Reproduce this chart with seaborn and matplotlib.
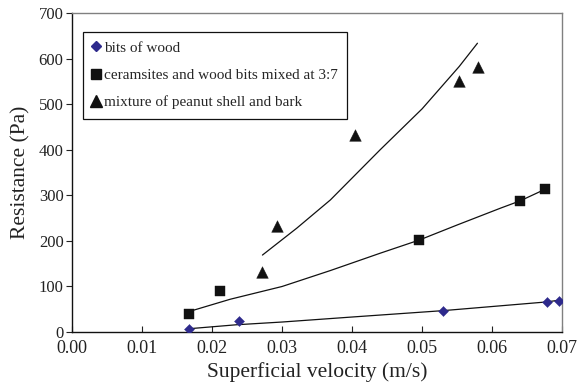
import matplotlib
matplotlib.use("Agg")
import matplotlib.pyplot as plt
import seaborn as sns
import pandas as pd
from matplotlib.lines import Line2D

# measured points
wood_v = [0.0167, 0.0239, 0.0530, 0.0679, 0.0696]
wood_r = [6, 24, 47, 65, 68]
mix_v = [0.0167, 0.0212, 0.0496, 0.0640, 0.0675]
mix_r = [39, 90, 202, 288, 314]
peanut_v = [0.0271, 0.0293, 0.0404, 0.0553, 0.0580]
peanut_r = [131, 233, 433, 552, 581]

# model curves
wood_fit_v = [0.0165, 0.0235, 0.030, 0.040, 0.053, 0.0677, 0.0696]
wood_fit_r = [7, 16, 22, 33, 47, 66, 70]
mix_fit_v = [0.0165, 0.0226, 0.030, 0.0369, 0.044, 0.0496, 0.055, 0.0612, 0.064, 0.0675]
mix_fit_r = [44, 72, 100, 135, 173, 202, 235, 272, 288, 313]
peanut_fit_v = [0.0272, 0.0321, 0.0369, 0.044, 0.050, 0.0553, 0.0579]
peanut_fit_r = [169, 228, 290, 400, 490, 583, 634]

labels = ["bits of wood", "ceramsites and wood bits mixed at 3:7",
          "mixture of peanut shell and bark"]
x_ticks = [0.00, 0.01, 0.02, 0.03, 0.04, 0.05, 0.06, 0.07]
y_ticks = [0, 100, 200, 300, 400, 500, 600, 700]

sns.set_style("ticks")
plt.rcParams["font.family"] = ["Liberation Serif", "DejaVu Serif"]

fig = plt.figure(figsize=(5.85, 3.87), dpi=100)
ax = fig.add_axes([0.123, 0.142, 0.838, 0.824])

navy = "#2E2A8C"
black = "#111111"

for fv, fr in [(wood_fit_v, wood_fit_r), (mix_fit_v, mix_fit_r), (peanut_fit_v, peanut_fit_r)]:
    df = pd.DataFrame({"v": fv, "r": fr})
    sns.lineplot(data=df, x="v", y="r", ax=ax, color="#111111", lw=0.9,
                 sort=False, estimator=None, legend=False)

sns.scatterplot(x=wood_v, y=wood_r, ax=ax, marker="D", s=26, color=navy,
                edgecolor=navy, linewidth=0.3, zorder=3)
sns.scatterplot(x=mix_v, y=mix_r, ax=ax, marker="s", s=48, color=black,
                edgecolor=black, linewidth=0.3, zorder=3)
sns.scatterplot(x=peanut_v, y=peanut_r, ax=ax, marker="^", s=70, color=black,
                edgecolor=black, linewidth=0.3, zorder=3)

ax.set_xlim(0, 0.07)
ax.set_ylim(0, 700)
ax.set_xticks(x_ticks)
ax.set_xticklabels([f"{t:.2f}" for t in x_ticks])
ax.set_yticks(y_ticks)
ax.set_yticklabels([str(t) for t in y_ticks])
ax.tick_params(axis="x", direction="in", length=4, width=0.8, labelsize=13, pad=5.5, colors="#222222")
ax.tick_params(axis="y", direction="out", length=4, width=0.8, labelsize=12, pad=2, colors="#222222")
ax.set_xlabel("Superficial velocity (m/s)", fontsize=15.5, color="#222222", labelpad=4)
ax.set_ylabel("Resistance (Pa)", fontsize=15.5, color="#222222", labelpad=6)

for s in ["left", "bottom"]:
    ax.spines[s].set_color("#111111")
    ax.spines[s].set_linewidth(1.0)
for s in ["top", "right"]:
    ax.spines[s].set_visible(True)
    ax.spines[s].set_color("#808080")
    ax.spines[s].set_linewidth(1.0)

handles = [
    Line2D([], [], marker="D", ls="none", color=navy, markersize=5),
    Line2D([], [], marker="s", ls="none", color=black, markersize=7),
    Line2D([], [], marker="^", ls="none", color=black, markersize=8),
]
leg = ax.legend(handles, labels, loc="upper left", bbox_to_anchor=(0.022, 0.942),
                frameon=True, fancybox=False, edgecolor="#111111", framealpha=1,
                fontsize=11, handlelength=0.6, handletextpad=0.2,
                labelspacing=0.9, borderpad=0.6, borderaxespad=0)
leg.get_frame().set_linewidth(0.9)

fig.savefig("out.png", dpi=100)
